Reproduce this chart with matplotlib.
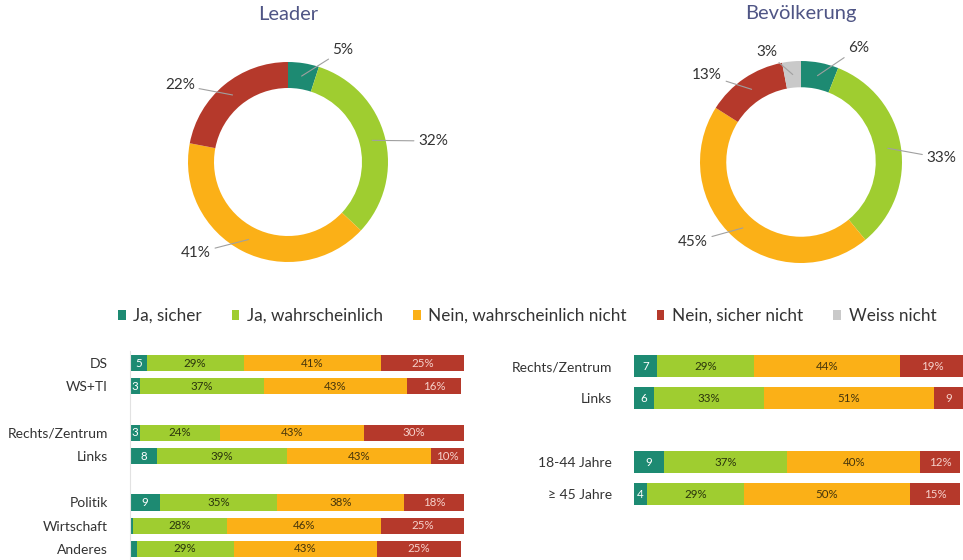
import numpy as np
import matplotlib as mpl
mpl.use("Agg")
from matplotlib import pyplot as plt
from matplotlib.patches import Patch

plt.rcParams["font.family"] = ["Lato", "DejaVu Sans"]

# legend categories and colours
categories = ["Ja, sicher", "Ja, wahrscheinlich", "Nein, wahrscheinlich nicht",
              "Nein, sicher nicht", "Weiss nicht"]
colors = ["#1d8a72", "#9fcd30", "#fbb017", "#b5392b", "#c9c9c9"]
text_colors = ["#ffffff", "#2a340c", "#45350c", "#f6d2cc", "#333333"]

# donuts
leader_vals = [5, 32, 41, 22]
bevoelkerung_vals = [6, 33, 45, 13, 3]

# stacked bars, left block (Leader)
left_rows = ["DS", "WS+TI", "Rechts/Zentrum", "Links", "Politik", "Wirtschaft", "Anderes"]
left_pos = [0, 1, 3, 4, 6, 7, 8]
left_sicher = [5, 3, 3, 8, 9, 1, 2]
left_wahrsch = [29, 37, 24, 39, 35, 28, 29]
left_nein_w = [41, 43, 43, 43, 38, 46, 43]
left_nein_s = [25, 16, 30, 10, 18, 25, 25]

# stacked bars, right block (Bevoelkerung)
right_rows = ["Rechts/Zentrum", "Links", "18-44 Jahre", "\u2265 45 Jahre"]
right_pos = [0, 1, 3, 4]
right_sicher = [7, 6, 9, 4]
right_wahrsch = [29, 33, 37, 29]
right_nein_w = [44, 51, 40, 50]
right_nein_s = [19, 9, 12, 15]

W, H = 963, 560
fig = plt.figure(figsize=(W / 100, H / 100), dpi=100)


def px_axes(x0, y0, x1, y1):
    return fig.add_axes([x0 / W, 1 - y1 / H, (x1 - x0) / W, (y1 - y0) / H])


def donut(ax, vals, label_xy, title):
    wedges, _ = ax.pie(vals, colors=colors[:len(vals)], startangle=90, counterclock=False,
                       radius=1, wedgeprops=dict(width=0.26, linewidth=0))
    ax.set_xlim(-1, 1)
    ax.set_ylim(-1, 1)
    ax.set_aspect("equal")
    for w, v, (tx, ty) in zip(wedges, vals, label_xy):
        a = np.deg2rad((w.theta1 + w.theta2) / 2)
        ax.annotate(f"{v}%", xy=(0.87 * np.cos(a), 0.87 * np.sin(a)), xytext=(tx, ty),
                    ha="center", va="center", fontsize=11, color="#333333",
                    arrowprops=dict(arrowstyle="-", color="#a0a0a0", lw=0.8,
                                    shrinkA=1, shrinkB=0))
    ax.text(0, 1.47, title, ha="center", va="center", fontsize=14.5, color="#4f5585")


ax1 = px_axes(188, 62, 388, 262)
donut(ax1, leader_vals,
      [(0.55, 1.12), (1.45, 0.21), (-0.92, -0.91), (-1.08, 0.77)], "Leader")

ax2 = px_axes(700, 61, 902, 263)
donut(ax2, bevoelkerung_vals,
      [(0.57, 1.13), (1.39, 0.04), (-1.07, -0.79), (-0.93, 0.86), (-0.34, 1.09)],
      "Bev\u00f6lkerung")

handles = [Patch(facecolor=c, edgecolor="none") for c in colors]
fig.legend(handles, categories, loc="center", bbox_to_anchor=(527 / W, 1 - 316 / H),
           ncol=5, frameon=False, fontsize=12.3, handlelength=0.45, handleheight=0.45,
           handletextpad=0.45, columnspacing=1.75, labelcolor="#333333")


def stacked(ax, rows, pos, segs, height, spine):
    left = np.zeros(len(rows))
    for i, seg in enumerate(segs):
        seg = np.array(seg)
        ax.barh(pos, seg, left=left, height=height, color=colors[i], linewidth=0)
        for y, l, v in zip(pos, left, seg):
            if v >= 3:
                txt = f"{v}%" if (v >= 10 and i > 0) else f"{v}"
                ax.text(l + v / 2, y, txt, ha="center", va="center", fontsize=8.3,
                        color=text_colors[i])
        left = left + seg
    ax.set_xlim(0, 100)
    ax.set_ylim(max(pos) + 0.5, -0.5)
    ax.set_yticks(pos)
    ax.set_yticklabels(rows, fontsize=10, color="#333333")
    ax.set_xticks([])
    ax.tick_params(axis="y", length=0, pad=16)
    for s in ["top", "right", "bottom"]:
        ax.spines[s].set_visible(False)
    if spine:
        ax.spines["left"].set_color("#e2e2e2")
        ax.spines["left"].set_linewidth(0.8)
    else:
        ax.spines["left"].set_visible(False)


ax3 = px_axes(130, 351.4, 464, 560.6)
stacked(ax3, left_rows, left_pos,
        [left_sicher, left_wahrsch, left_nein_w, left_nein_s], 0.69, True)

ax4 = px_axes(634, 350, 967, 510)
stacked(ax4, right_rows, right_pos,
        [right_sicher, right_wahrsch, right_nein_w, right_nein_s], 0.66, False)

fig.savefig("out.png", dpi=100)
